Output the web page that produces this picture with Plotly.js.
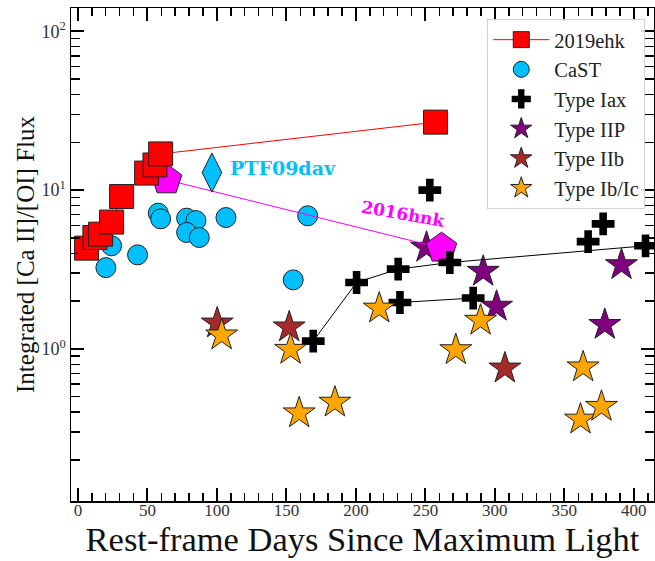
<!DOCTYPE html>
<html>
<head>
<meta charset="utf-8">
<script src="https://cdn.plot.ly/plotly-3.0.1.min.js"></script>
<style>html,body{margin:0;padding:0;background:#fff;}#chart{width:655px;height:561px;}</style>
</head>
<body>
<div id="chart"></div>
<script>
// ---- data (rest-frame days, integrated [Ca II]/[O I] flux ratio) ----
const ehkDays  = [6.2, 12.2, 16.3, 24.2, 31.4, 49.4, 55.4, 59.5, 257.3];
const ehkRatio = [4.31, 5.03, 5.28, 6.29, 9.11, 12.8, 14.4, 16.9, 26.8];

const castDays  = [20.1, 24.2, 42.9, 57.8, 59.5, 78.2, 84.9, 78.2, 87.3, 106.5, 165.3, 154.9];
const castRatio = [3.25, 4.46, 3.91, 7.16, 6.59, 6.66, 6.43, 5.41, 5.03, 6.72, 6.89, 2.72];

const hnkDays  = [63.8, 261.6];
const hnkRatio = [11.6, 4.31];

const ptfDays  = [96.4];
const ptfRatio = [12.9];

// Type Iax: group id 1 and 2 are connected sequences, 0 = single epochs
const iaxDays  = [169.3, 200.5, 230.4, 267.6, 408.4, 231.7, 284.4, 253.2, 367.1, 377.9];
const iaxRatio = [1.12, 2.62, 3.18, 3.50, 4.46, 1.96, 2.09, 10.0, 4.74, 6.13];
const iaxGroup = [1, 1, 1, 1, 1, 2, 2, 0, 0, 0];

const iipDays  = [250.8, 291.6, 301.2, 379.1, 391.1];
const iipRatio = [4.35, 3.07, 1.85, 1.42, 3.38];

const iibDays  = [100.2, 152.0, 307.2];
const iibRatio = [1.45, 1.37, 0.755];

const ibcDays  = [103.4, 153.0, 159.2, 184.9, 216.8, 271.9, 289.7, 361.6, 363.5, 376.7];
const ibcRatio = [1.22, 0.99, 0.394, 0.46, 1.80, 0.985, 1.51, 0.36, 0.767, 0.433];

const legendNames = ['2019ehk', 'CaST', 'Type Iax', 'Type IIP', 'Type IIb', 'Type Ib/Ic'];
const xTickVals = [0, 50, 100, 150, 200, 250, 300, 350, 400];
const yTickVals = [1, 10, 100];
const yTickText = ['10<sup>0</sup>', '10<sup>1</sup>', '10<sup>2</sup>'];

// ---- build connected Iax segments with gaps ----
const iaxLineX = [], iaxLineY = [];
[1, 2].forEach(g => {
  iaxDays.forEach((d, i) => { if (iaxGroup[i] === g) { iaxLineX.push(d); iaxLineY.push(iaxRatio[i]); } });
  iaxLineX.push(null); iaxLineY.push(null);
});

const edge = {color: '#222', width: 1};
const FONT = 'Liberation Serif, Times New Roman, serif';

const traces = [
  {x: castDays, y: castRatio, mode: 'markers', name: legendNames[1], legendrank: 2,
   marker: {symbol: 'circle', size: 20, color: '#00BFFF', line: edge}},
  {x: iipDays, y: iipRatio, mode: 'markers', name: legendNames[3], legendrank: 4,
   marker: {symbol: 'star', size: 24, color: '#800080', line: edge}},
  {x: iibDays, y: iibRatio, mode: 'markers', name: legendNames[4], legendrank: 5,
   marker: {symbol: 'star', size: 24, color: '#A52A2A', line: edge}},
  {x: hnkDays, y: hnkRatio, mode: 'lines+markers', showlegend: false,
   line: {color: '#FF00FF', width: 1},
   marker: {symbol: 'pentagon', size: 32, color: '#FF00FF', line: edge}},
  {x: iaxLineX, y: iaxLineY, mode: 'lines', showlegend: false, connectgaps: false,
   line: {color: '#000', width: 1}},
  {x: iaxDays, y: iaxRatio, mode: 'markers', name: legendNames[2], legendrank: 3,
   marker: {symbol: 'cross', size: 19, color: '#000', line: {color: '#000', width: 0}}},
  {x: ibcDays, y: ibcRatio, mode: 'markers', name: legendNames[5], legendrank: 6,
   marker: {symbol: 'star', size: 24, color: '#FFA500', line: edge}},
  {x: ptfDays, y: ptfRatio, mode: 'markers', showlegend: false,
   marker: {symbol: 'diamond-tall', size: 28, color: '#00BFFF', line: edge}},
  {x: ehkDays, y: ehkRatio, mode: 'lines+markers', name: legendNames[0], legendrank: 1,
   line: {color: '#FF0000', width: 1},
   marker: {symbol: 'square', size: 24, color: '#FF0000', line: edge}}
];

const minorY = [];
[0.1, 1, 10].forEach(base => { for (let k = 2; k <= 9; k++) minorY.push(+(base * k).toFixed(3)); });

const layout = {
  width: 655, height: 561,
  margin: {l: 71, r: 1, t: 8, b: 60},
  paper_bgcolor: '#fff', plot_bgcolor: '#fff',
  font: {family: FONT, color: '#000'},
  showlegend: true,
  legend: {
    x: 0.985, xanchor: 'right', y: 0.978, yanchor: 'top',
    bgcolor: 'rgba(255,255,255,0.85)', bordercolor: '#d0d0d0', borderwidth: 1,
    font: {family: FONT, size: 20.5, color: '#222'},
    traceorder: 'normal', itemsizing: 'trace', itemwidth: 56
  },
  xaxis: {
    range: [-5, 414.5], tickmode: 'array', tickvals: xTickVals,
    ticks: 'inside', ticklen: 13, tickwidth: 2, tickcolor: '#000',
    minor: {dtick: 10, tick0: 0, ticks: 'inside', ticklen: 8, tickwidth: 1.5, tickcolor: '#000'},
    showline: true, linecolor: '#000', linewidth: 1.5, mirror: 'allticks',
    showgrid: false, zeroline: false, ticklabelstandoff: -7,
    tickfont: {family: FONT, size: 17, color: '#333'},
    title: {text: 'Rest-frame Days Since Maximum Light', font: {family: FONT, size: 34.5, color: '#111'}, standoff: 4}
  },
  yaxis: {
    type: 'log', range: [-0.958, 2.147], tickmode: 'array', tickvals: yTickVals, ticktext: yTickText,
    ticks: 'inside', ticklen: 13, tickwidth: 2, tickcolor: '#000',
    minor: {tickmode: 'array', tickvals: minorY, ticks: 'inside', ticklen: 9, tickwidth: 1.5, tickcolor: '#000'},
    showline: true, linecolor: '#000', linewidth: 1.5, mirror: 'allticks',
    showgrid: false, zeroline: false,
    tickfont: {family: FONT, size: 18, color: '#333'},
    title: {text: 'Integrated [Ca II]/[OI] Flux', font: {family: FONT, size: 25, color: '#111'}, standoff: 0}
  },
  annotations: [
    {x: 107.9, y: 1.141, xref: 'x', yref: 'y', text: '<b>PTF09dav</b>', showarrow: false,
     xanchor: 'left', yanchor: 'middle', font: {family: 'DejaVu Serif, serif', size: 19, color: '#00BFFF'}},
    {x: 234.5, y: 0.851, xref: 'x', yref: 'y', text: '<b>2016hnk</b>', showarrow: false, textangle: 10,
     xanchor: 'center', yanchor: 'middle', font: {family: 'DejaVu Serif, serif', size: 17, color: '#FF00FF'}}
  ]
};

Plotly.newPlot('chart', traces, layout, {displayModeBar: false, staticPlot: true});
</script>
</body>
</html>
